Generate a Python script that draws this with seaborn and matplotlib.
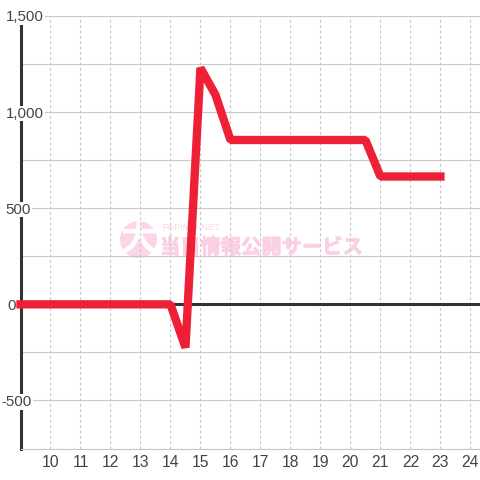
import matplotlib
matplotlib.use("Agg")
import matplotlib.pyplot as plt
import matplotlib.patheffects as pe
from matplotlib.patches import Circle
import pandas as pd
import seaborn as sns

# half hour steps
hours = [9, 10, 11, 12, 13, 14, 14.5, 15, 15.5, 16, 17, 18, 19, 20, 20.5, 21, 22, 23]
values = [0, 0, 0, 0, 0, 0, -225, 1230, 1090, 855, 855, 855, 855, 855, 855, 665, 665, 665]
x_ticks = list(range(10, 25))
y_grid = [-750, -500, -250, 0, 250, 500, 750, 1000, 1250, 1500]
y_labels = {1500: "1,500", 1000: "1,000", 500: "500", 0: "0", -500: "-500"}
# label centres in px, the labels are not right aligned in the original
label_px = {1500: 25, 1000: 25, 500: 18.5, 0: 12, -500: 16.7}

sns.set_theme(style="white")
plt.rcParams['font.family'] = ['Liberation Sans', 'DejaVu Sans']

df = pd.DataFrame({"hour": hours, "value": values})

fig = plt.figure(figsize=(4.8, 4.8), dpi=100)
ax = fig.add_axes([20.5 / 480, 31.5 / 480, 459.5 / 480, 432.5 / 480])

sns.lineplot(data=df, x="hour", y="value", color="#ee2035", linewidth=6, sort=False,
             estimator=None, ax=ax, zorder=7, clip_on=False,
             solid_capstyle="projecting", solid_joinstyle="bevel")

ax.set_xlim(9, 24.32)
ax.set_ylim(-750, 1500)
ax.set_xlabel("")
ax.set_ylabel("")
ax.set_xticks(x_ticks)
ax.set_yticks(y_grid)
ax.set_yticklabels([])
ax.grid(axis="y", color="#c8c8c8", linewidth=0.8, linestyle="-")
ax.grid(axis="x", color="#c8c8c8", linewidth=0.8, linestyle=(0, (2.6, 2.2)))
ax.set_axisbelow(True)
ax.tick_params(axis="x", length=0, pad=5, labelsize=11.3, labelcolor="#444444")
ax.tick_params(axis="y", length=0)

for side in ["top", "right"]:
    ax.spines[side].set_visible(False)
ax.spines["bottom"].set_color("#c8c8c8")
ax.spines["bottom"].set_linewidth(0.8)
ax.spines["left"].set_color("#333333")
ax.spines["left"].set_linewidth(2.2)
ax.axhline(0, color="#333333", linewidth=2.2, zorder=3)

# watermark, under the grid and the line
cjk = ['Noto Sans CJK JP', 'DejaVu Sans']
ax.add_artist(Circle((138.5 / 480, 1 - 239.5 / 480), 18.5 / 480, transform=fig.transFigure,
                     facecolor="#fcd5e8", edgecolor="none", zorder=0.3))
ax.text(138.5 / 480, 1 - 239 / 480, "大", color="white", fontsize=26, fontweight="bold", ha="center", va="center",
        family=cjk, zorder=0.4, transform=fig.transFigure)
ax.text(162 / 480, 1 - 227 / 480, "PAPIMO-NET", color="#fcd5e8", fontsize=6.8, ha="left", va="center",
        zorder=0.4, transform=fig.transFigure)
ax.text(160 / 480, 1 - 247 / 480, "当日情報公開サービス", color="#fbcfe5", fontsize=14.6, fontweight="bold",
        ha="left", va="center", family=cjk, zorder=0.4, transform=fig.transFigure,
        path_effects=[pe.withStroke(linewidth=0.7, foreground="#fbcfe5")])

for val, label in y_labels.items():
    ax.text(label_px[val] / 480, ax.transData.transform((9, val))[1] / 480, label, fontsize=10.8, color="#444444",
            ha="center", va="center_baseline", zorder=6, transform=fig.transFigure, clip_on=False,
            bbox=dict(facecolor="white", edgecolor="none", pad=0.5))

fig.savefig("out.png", dpi=100)
